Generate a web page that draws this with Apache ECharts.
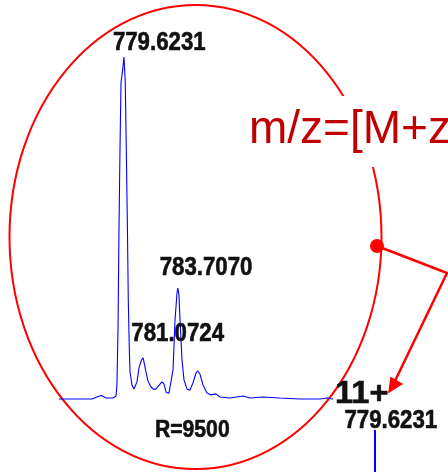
<!DOCTYPE html>
<html><head><meta charset="utf-8">
<script src="https://cdn.jsdelivr.net/npm/echarts@6/dist/echarts.min.js"></script>
<style>html,body{margin:0;padding:0;background:#fff;}#c{width:448px;height:472px;}</style>
</head><body><div id="c"></div>
<script>
// m/z values of the zoomed spectrum trace
const mzValues = [774.70,775.91,777.20,777.58,777.90,778.26,778.79,779.02,779.09,779.17,779.24,779.32,779.40,779.50,779.6231,779.72,779.80,779.89,779.95,780.03,780.08,780.23,780.38,780.49,780.61,780.76,780.95,781.0724,781.14,781.29,781.44,781.67,781.85,782.03,782.50,782.65,782.81,783.03,783.18,783.34,783.49,783.64,783.7070,783.79,783.87,784.02,784.17,784.40,784.62,784.85,785.08,785.21,785.38,785.61,785.90,786.21,786.59,786.90,787.65,788.64,789.17,790.15,791.44,792.96,794.47,795.00,795.46];
// relative intensities (%)
const intensityValues = [0,0,0,0.6,1.0,0.3,0.3,0.9,4.1,20.2,48.0,72.8,92.7,95.5,100,92.7,72.8,48.0,28.9,14.3,7.9,4.1,2.9,2.6,5.0,9.1,11.4,12.0,10.8,7.9,5.3,3.5,2.9,2.9,5.0,4.4,2.0,1.7,2.0,8.5,23.1,31.0,32.4,30.4,23.0,11.4,5.6,2.9,2.6,4.7,7.6,8.2,7.3,4.1,1.8,1.2,1.5,0.6,0.3,0.9,0.3,0.6,0.3,0,0,0.3,0];
// labelled peaks: [m/z, intensity, label]
const peakLabels = [[779.6231,100,'779.6231'],[781.0724,12.0,'781.0724'],[783.7070,32.4,'783.7070']];
// second (full) spectrum peak, only its tip visible
const fullMz = [779.6231, 779.6231];
const fullIntensity = [0, 100];
const fullLabel = '779.6231';
const chargeLabel = '11+';
const resolutionLabel = 'R=9500';
const formulaText = 'm/z=[M+z';

const BOLD = "bold 25px 'Liberation Sans', Arial, sans-serif";
const chart = echarts.init(document.getElementById('c'), null, {renderer:'canvas'});
chart.setOption({
  animation:false,
  grid:[
    {left:59, width:274, top:57, height:342},
    {left:355, width:40, top:430, height:200}
  ],
  xAxis:[
    {type:'value', gridIndex:0, min:774.70, max:795.46, show:false},
    {type:'value', gridIndex:1, min:779.1231, max:780.1231, show:false}
  ],
  yAxis:[
    {type:'value', gridIndex:0, min:0, max:100, show:false},
    {type:'value', gridIndex:1, min:0, max:100, show:false}
  ],
  series:[
    {type:'line', xAxisIndex:0, yAxisIndex:0, symbol:'none', clip:false,
     lineStyle:{color:'#0000ff', width:1.1}, z:3,
     data: mzValues.map((m,i)=>[m,intensityValues[i]])},
    {type:'line', xAxisIndex:1, yAxisIndex:1, symbol:'none', clip:false,
     lineStyle:{color:'#0000ff', width:2},
     data: fullMz.map((m,i)=>[m,fullIntensity[i]])}
  ]
});

// labels placed relative to the data points (pixel positions from the axes)
const labelOffsets = {'779.6231':[35.3,-14],'781.0724':[34.6,-23.8],'783.7070':[28.2,-20.2]};
const TXT = {fill:'#111', stroke:'#111', lineWidth:0.6, textAlign:'center', textVerticalAlign:'middle'};
const g = [
  {type:'ellipse', shape:{cx:195.5, cy:237, rx:186, ry:232}, style:{fill:'none', stroke:'#ff0000', lineWidth:2}, z:1},
  {type:'rect', shape:{x:249, y:96, width:199, height:71}, style:{fill:'#ffffff'}, z:2},
  {type:'text', x:249, y:130, style:{text:formulaText, fill:'#c00000', font:"46px 'Liberation Sans', Arial, sans-serif", textVerticalAlign:'middle'}, z:3},
  {type:'circle', shape:{cx:377, cy:246, r:7}, style:{fill:'#ff0000'}, z:4},
  {type:'polyline', shape:{points:[[377,246],[447,273],[394,383]]}, style:{stroke:'#ff0000', lineWidth:2.5, fill:'none'}, z:4},
  {type:'polygon', shape:{points:[[388,393.5],[390.5,376.5],[403,384]]}, style:{fill:'#ff0000'}, z:4},
  {type:'text', x:192.3, y:430.3, scaleX:0.92, style:Object.assign({text:resolutionLabel, font:"bold 23px 'Liberation Sans', Arial, sans-serif"}, TXT), z:4},
  {type:'text', x:361.7, y:394.2, scaleX:1.05, style:Object.assign({text:chargeLabel, font:"bold 31px 'Liberation Sans', Arial, sans-serif"}, TXT), z:4}
];
peakLabels.forEach(p=>{
  const px = chart.convertToPixel({xAxisIndex:0, yAxisIndex:0}, [p[0], p[1]]);
  const o = labelOffsets[p[2]];
  g.push({type:'text', x:px[0]+o[0], y:px[1]+o[1], scaleX:0.89,
    style:Object.assign({text:p[2], font:BOLD}, TXT), z:5});
});
const fp = chart.convertToPixel({xAxisIndex:1, yAxisIndex:1}, [fullMz[1], fullIntensity[1]]);
g.push({type:'text', x:fp[0]+15.8, y:fp[1]-9, scaleX:0.89,
  style:Object.assign({text:fullLabel, font:BOLD}, TXT), z:5});
chart.setOption({graphic:g});
</script></body></html>
